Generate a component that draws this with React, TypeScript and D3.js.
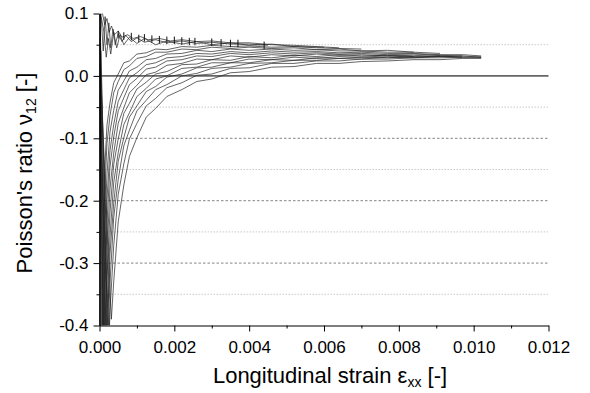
import React, { useEffect, useRef } from 'react';
import * as d3 from 'd3';

// strain in units of 1e-3, Poisson's ratio
const c01 = [[0.01, 0.02], [0.063, -0.40], [0.1, -0.225], [0.14, -0.148], [0.2, -0.079], [0.28, -0.043], [0.38, -0.011], [0.5, 0.003], [0.65, 0.021], [0.8, 0.024], [1.0, 0.035], [1.25, 0.037], [1.5, 0.043], [1.8, 0.042], [2.2, 0.047], [2.6, 0.046], [3.0, 0.049], [3.5, 0.047], [4.0, 0.048], [4.6, 0.046], [5.2, 0.047], [5.8, 0.045], [6.4, 0.044], [7.0, 0.043]];
const c02 = [[0.02, -0.03], [0.075, -0.40], [0.1, -0.28], [0.14, -0.188], [0.2, -0.108], [0.28, -0.064], [0.38, -0.027], [0.5, -0.009], [0.65, 0.010], [0.8, 0.016], [1.0, 0.028], [1.25, 0.031], [1.5, 0.038], [1.8, 0.038], [2.2, 0.043], [2.6, 0.042], [3.0, 0.046], [3.5, 0.044], [4.0, 0.046], [4.6, 0.044], [5.2, 0.045], [5.8, 0.042], [6.4, 0.043], [7.0, 0.040], [7.7, 0.041], [8.4, 0.038]];
const c03 = [[0.015, 0.05], [0.094, -0.40], [0.14, -0.245], [0.2, -0.158], [0.28, -0.090], [0.38, -0.055], [0.5, -0.023], [0.65, -0.008], [0.8, 0.008], [1.0, 0.014], [1.25, 0.026], [1.5, 0.028], [1.8, 0.035], [2.2, 0.036], [2.6, 0.041], [3.0, 0.039], [3.5, 0.043], [4.0, 0.041], [4.6, 0.043], [5.2, 0.041], [5.8, 0.042], [6.4, 0.040], [7.0, 0.040], [7.7, 0.038], [8.4, 0.038], [9.1, 0.036]];
const c04 = [[0.01, -0.05], [0.111, -0.40], [0.14, -0.30], [0.2, -0.198], [0.28, -0.120], [0.38, -0.078], [0.5, -0.041], [0.65, -0.022], [0.8, -0.003], [1.0, 0.005], [1.25, 0.018], [1.5, 0.021], [1.8, 0.029], [2.2, 0.031], [2.6, 0.036], [3.0, 0.035], [3.5, 0.039], [4.0, 0.037], [4.6, 0.040], [5.2, 0.038], [5.8, 0.039], [6.4, 0.037], [7.0, 0.038], [7.7, 0.036], [8.4, 0.036], [9.1, 0.034], [9.7, 0.034], [10.2, 0.032]];
const c05 = [[0.02, 0.03], [0.127, -0.40], [0.14, -0.352], [0.2, -0.236], [0.28, -0.146], [0.38, -0.098], [0.5, -0.056], [0.65, -0.035], [0.8, -0.014], [1.0, -0.004], [1.25, 0.011], [1.5, 0.014], [1.8, 0.024], [2.2, 0.026], [2.6, 0.032], [3.0, 0.031], [3.5, 0.036], [4.0, 0.034], [4.6, 0.037], [5.2, 0.035], [5.8, 0.037], [6.4, 0.035], [7.0, 0.036], [7.7, 0.034], [8.4, 0.035], [9.1, 0.033], [9.7, 0.032]];
const c06 = [[0.01, 0.06], [0.147, -0.40], [0.2, -0.283], [0.28, -0.181], [0.38, -0.124], [0.5, -0.076], [0.65, -0.051], [0.8, -0.027], [1.0, -0.015], [1.25, 0.002], [1.5, 0.006], [1.8, 0.017], [2.2, 0.020], [2.6, 0.027], [3.0, 0.026], [3.5, 0.032], [4.0, 0.030], [4.6, 0.034], [5.2, 0.032], [5.8, 0.035], [6.4, 0.033], [7.0, 0.034], [7.7, 0.032], [8.4, 0.033], [9.1, 0.031], [9.7, 0.032], [10.2, 0.030]];
const c07 = [[0.03, -0.02], [0.166, -0.40], [0.2, -0.321], [0.28, -0.219], [0.38, -0.142], [0.5, -0.101], [0.65, -0.060], [0.8, -0.044], [1.0, -0.021], [1.25, -0.010], [1.5, 0.003], [1.8, 0.007], [2.2, 0.018], [2.6, 0.019], [3.0, 0.026], [3.5, 0.025], [4.0, 0.031], [4.6, 0.029], [5.2, 0.033], [5.8, 0.031], [6.4, 0.034], [7.0, 0.032], [7.7, 0.033], [8.4, 0.031], [9.1, 0.032]];
const c08 = [[0.02, 0.08], [0.19, -0.40], [0.2, -0.375], [0.28, -0.258], [0.38, -0.171], [0.5, -0.123], [0.65, -0.078], [0.8, -0.059], [1.0, -0.033], [1.25, -0.020], [1.5, -0.005], [1.8, 0.000], [2.2, 0.012], [2.6, 0.014], [3.0, 0.021], [3.5, 0.021], [4.0, 0.027], [4.6, 0.026], [5.2, 0.030], [5.8, 0.028], [6.4, 0.031], [7.0, 0.030], [7.7, 0.032], [8.4, 0.030], [9.1, 0.032], [9.7, 0.030], [10.2, 0.030]];
const c09 = [[0.04, 0.04], [0.211, -0.40], [0.28, -0.286], [0.38, -0.204], [0.5, -0.137], [0.65, -0.099], [0.8, -0.066], [1.0, -0.048], [1.25, -0.025], [1.5, -0.017], [1.8, -0.002], [2.2, 0.003], [2.6, 0.013], [3.0, 0.014], [3.5, 0.021], [4.0, 0.021], [4.6, 0.026], [5.2, 0.025], [5.8, 0.029], [6.4, 0.028], [7.0, 0.030], [7.7, 0.029], [8.4, 0.031]];
const c10 = [[0.02, -0.08], [0.236, -0.40], [0.28, -0.332], [0.38, -0.227], [0.5, -0.166], [0.65, -0.112], [0.8, -0.087], [1.0, -0.056], [1.25, -0.039], [1.5, -0.022], [1.8, -0.014], [2.2, 0.000], [2.6, 0.004], [3.0, 0.012], [3.5, 0.014], [4.0, 0.020], [4.6, 0.021], [5.2, 0.025], [5.8, 0.025], [6.4, 0.028], [7.0, 0.027], [7.7, 0.030], [8.4, 0.029], [9.1, 0.031], [9.7, 0.030]];
const c11 = [[0.03, 0.01], [0.268, -0.40], [0.28, -0.378], [0.38, -0.272], [0.5, -0.190], [0.65, -0.141], [0.8, -0.101], [1.0, -0.076], [1.25, -0.048], [1.5, -0.036], [1.8, -0.019], [2.2, -0.011], [2.6, 0.001], [3.0, 0.003], [3.5, 0.012], [4.0, 0.013], [4.6, 0.020], [5.2, 0.020], [5.8, 0.024], [6.4, 0.024], [7.0, 0.027], [7.7, 0.027], [8.4, 0.029], [9.1, 0.029], [9.7, 0.030], [10.2, 0.030]];
const c12 = [[0.05, -0.03], [0.317, -0.39], [0.38, -0.330], [0.5, -0.234], [0.65, -0.175], [0.8, -0.129], [1.0, -0.099], [1.25, -0.066], [1.5, -0.052], [1.8, -0.033], [2.2, -0.022], [2.6, -0.009], [3.0, -0.005], [3.5, 0.005], [4.0, 0.007], [4.6, 0.014], [5.2, 0.015], [5.8, 0.020], [6.4, 0.020], [7.0, 0.023], [7.7, 0.024], [8.4, 0.026], [9.1, 0.026], [9.7, 0.028], [10.2, 0.028]];
const lowerCurves = [c01, c02, c03, c04, c05, c06, c07, c08, c09, c10, c11, c12];

// the three curves that start high and settle near 0.05
const u1 = [[0.005, -0.45], [0.02, 0.098], [0.08, 0.1], [0.14, 0.082], [0.2, 0.092], [0.26, 0.07], [0.32, 0.08], [0.4, 0.066], [0.5, 0.072], [0.6, 0.062], [0.75, 0.066], [0.9, 0.06], [1.1, 0.063], [1.3, 0.058], [1.6, 0.06], [1.9, 0.056], [2.2, 0.058], [2.6, 0.055], [3.0, 0.056], [3.5, 0.053], [4.0, 0.053], [4.6, 0.05], [5.2, 0.049], [5.8, 0.047], [6.4, 0.045]];
const u2 = [[0.008, -0.45], [0.01, 0.1], [0.05, 0.09], [0.1, 0.04], [0.15, 0.095], [0.2, 0.05], [0.25, 0.085], [0.3, 0.045], [0.36, 0.075], [0.42, 0.05], [0.5, 0.068], [0.6, 0.055], [0.7, 0.065], [0.85, 0.055], [1.0, 0.061], [1.2, 0.054], [1.5, 0.058], [1.8, 0.053], [2.2, 0.056], [2.6, 0.052], [3.0, 0.054], [3.5, 0.051], [4.0, 0.051], [4.5, 0.049]];
const u3 = [[0.03, 0.1], [0.12, 0.07], [0.18, 0.03], [0.24, 0.06], [0.3, 0.035], [0.38, 0.07], [0.46, 0.045], [0.55, 0.066], [0.65, 0.05], [0.8, 0.062], [1.0, 0.052], [1.2, 0.06], [1.5, 0.05], [1.8, 0.056], [2.2, 0.051], [2.6, 0.055], [3.0, 0.05], [3.5, 0.053], [4.0, 0.049], [4.6, 0.051], [5.2, 0.047], [6.0, 0.046]];
const upperCurves = [u1, u2, u3];

// vertical error bars drawn along the top curve
const barStrain = [0.5, 0.65, 0.85, 1.05, 1.2, 1.4, 1.6, 1.8, 2.0, 2.2, 2.4, 2.55, 3.0, 3.25, 3.5, 3.7, 4.4];
const barNu = [0.066, 0.064, 0.063, 0.060, 0.061, 0.059, 0.058, 0.057, 0.057, 0.056, 0.055, 0.055, 0.054, 0.053, 0.052, 0.052, 0.049];
const barHalf = 0.006;

const xTicks = [0, 0.002, 0.004, 0.006, 0.008, 0.010, 0.012];
const xMinor = [0.001, 0.003, 0.005, 0.007, 0.009, 0.011];
const yTicks = [0.1, 0.0, -0.1, -0.2, -0.3, -0.4];
const yMinor = [0.05, -0.05, -0.15, -0.25, -0.35];
const yDashed = [-0.1, -0.2, -0.3];

const FONT = "'Liberation Sans', Arial, sans-serif";

const App = () => {
    const svgRef = useRef<SVGSVGElement>(null);

    useEffect(() => {
        const svg = d3.select(svgRef.current);
        svg.selectAll('*').remove();

        const x = d3.scaleLinear().domain([0, 0.012]).range([99.5, 548.5]);
        const y = d3.scaleLinear().domain([-0.4, 0.1]).range([325.5, 13.5]);

        svg.append('clipPath').attr('id', 'plot-clip')
            .append('rect')
            .attr('x', x(0)).attr('y', y(0.1))
            .attr('width', x(0.012) - x(0)).attr('height', y(-0.4) - y(0.1));

        // grid lines
        svg.append('g').selectAll('line').data(yMinor).join('line')
            .attr('x1', x(0)).attr('x2', x(0.012))
            .attr('y1', d => y(d)).attr('y2', d => y(d))
            .attr('stroke', '#bbb').attr('stroke-width', 0.8).attr('stroke-dasharray', '1.5,1.5');
        svg.append('g').selectAll('line').data(yDashed).join('line')
            .attr('x1', x(0)).attr('x2', x(0.012))
            .attr('y1', d => y(d)).attr('y2', d => y(d))
            .attr('stroke', '#666').attr('stroke-width', 0.8).attr('stroke-dasharray', '2.5,2');
        svg.append('line')
            .attr('x1', x(0)).attr('x2', x(0.012))
            .attr('y1', y(0)).attr('y2', y(0))
            .attr('stroke', '#666').attr('stroke-width', 1.6);

        const line = d3.line<number[]>()
            .x(d => x(d[0] / 1000))
            .y(d => y(d[1]));

        const plot = svg.append('g').attr('clip-path', 'url(#plot-clip)');
        plot.selectAll('path.lower').data(lowerCurves).join('path')
            .attr('class', 'lower')
            .attr('d', d => line(d))
            .attr('fill', 'none').attr('stroke', '#222').attr('stroke-width', 0.7);
        plot.selectAll('path.upper').data(upperCurves).join('path')
            .attr('class', 'upper')
            .attr('d', d => line(d))
            .attr('fill', 'none').attr('stroke', '#222').attr('stroke-width', 0.7);
        plot.selectAll('line.bar').data(barStrain).join('line')
            .attr('class', 'bar')
            .attr('x1', d => x(d / 1000)).attr('x2', d => x(d / 1000))
            .attr('y1', (d, i) => y(barNu[i] + barHalf)).attr('y2', (d, i) => y(barNu[i] - barHalf))
            .attr('stroke', '#111').attr('stroke-width', 1);

        // axes
        const xAxis = d3.axisBottom(x).tickValues(xTicks)
            .tickFormat(d => (+d).toFixed(3)).tickSize(6).tickPadding(9).tickSizeOuter(0);
        const gx = svg.append('g').attr('transform', `translate(0, ${y(-0.4)})`).call(xAxis);
        svg.append('g').attr('transform', `translate(0, ${y(-0.4)})`)
            .call(d3.axisBottom(x).tickValues(xMinor).tickFormat(() => '').tickSize(3).tickSizeOuter(0))
            .select('.domain').remove();

        const yAxis = d3.axisLeft(y).tickValues(yTicks)
            .tickFormat(d => (+d).toFixed(1)).tickSize(6).tickPadding(5).tickSizeOuter(0);
        const gy = svg.append('g').attr('transform', `translate(${x(0)}, 0)`).call(yAxis);
        svg.append('g').attr('transform', `translate(${x(0)}, 0)`)
            .call(d3.axisLeft(y).tickValues(yMinor).tickFormat(() => '').tickSize(3).tickSizeOuter(0))
            .select('.domain').remove();

        [gx, gy].forEach(g => {
            g.select('.domain').attr('stroke', '#000').attr('stroke-width', 1.2);
            g.selectAll('.tick line').attr('stroke', '#000').attr('stroke-width', 1);
            g.selectAll('.tick text').attr('font-family', FONT).attr('font-size', 17).attr('fill', '#000');
        });
        gy.select('.domain').attr('stroke-width', 1.6);

        // axis titles
        const xt = svg.append('text')
            .attr('x', 330).attr('y', 383)
            .attr('text-anchor', 'middle')
            .attr('font-family', FONT).attr('font-size', 22);
        xt.append('tspan').text('Longitudinal strain ε');
        xt.append('tspan').attr('font-size', 14).attr('dy', 4).text('xx');
        xt.append('tspan').attr('dy', -4).text(' [-]');

        const yt = svg.append('text')
            .attr('transform', 'translate(32, 173) rotate(-90)')
            .attr('text-anchor', 'middle')
            .attr('font-family', FONT).attr('font-size', 22);
        yt.append('tspan').text("Poisson's ratio ν");
        yt.append('tspan').attr('font-size', 14).attr('dy', 4).text('12');
        yt.append('tspan').attr('dy', -4).text(' [-]');
    }, []);

    return (
        <svg ref={svgRef} width={590} height={393}
            style={{ position: 'absolute', left: 0, top: 0, background: '#fff' }} />
    );
};

export default App;
